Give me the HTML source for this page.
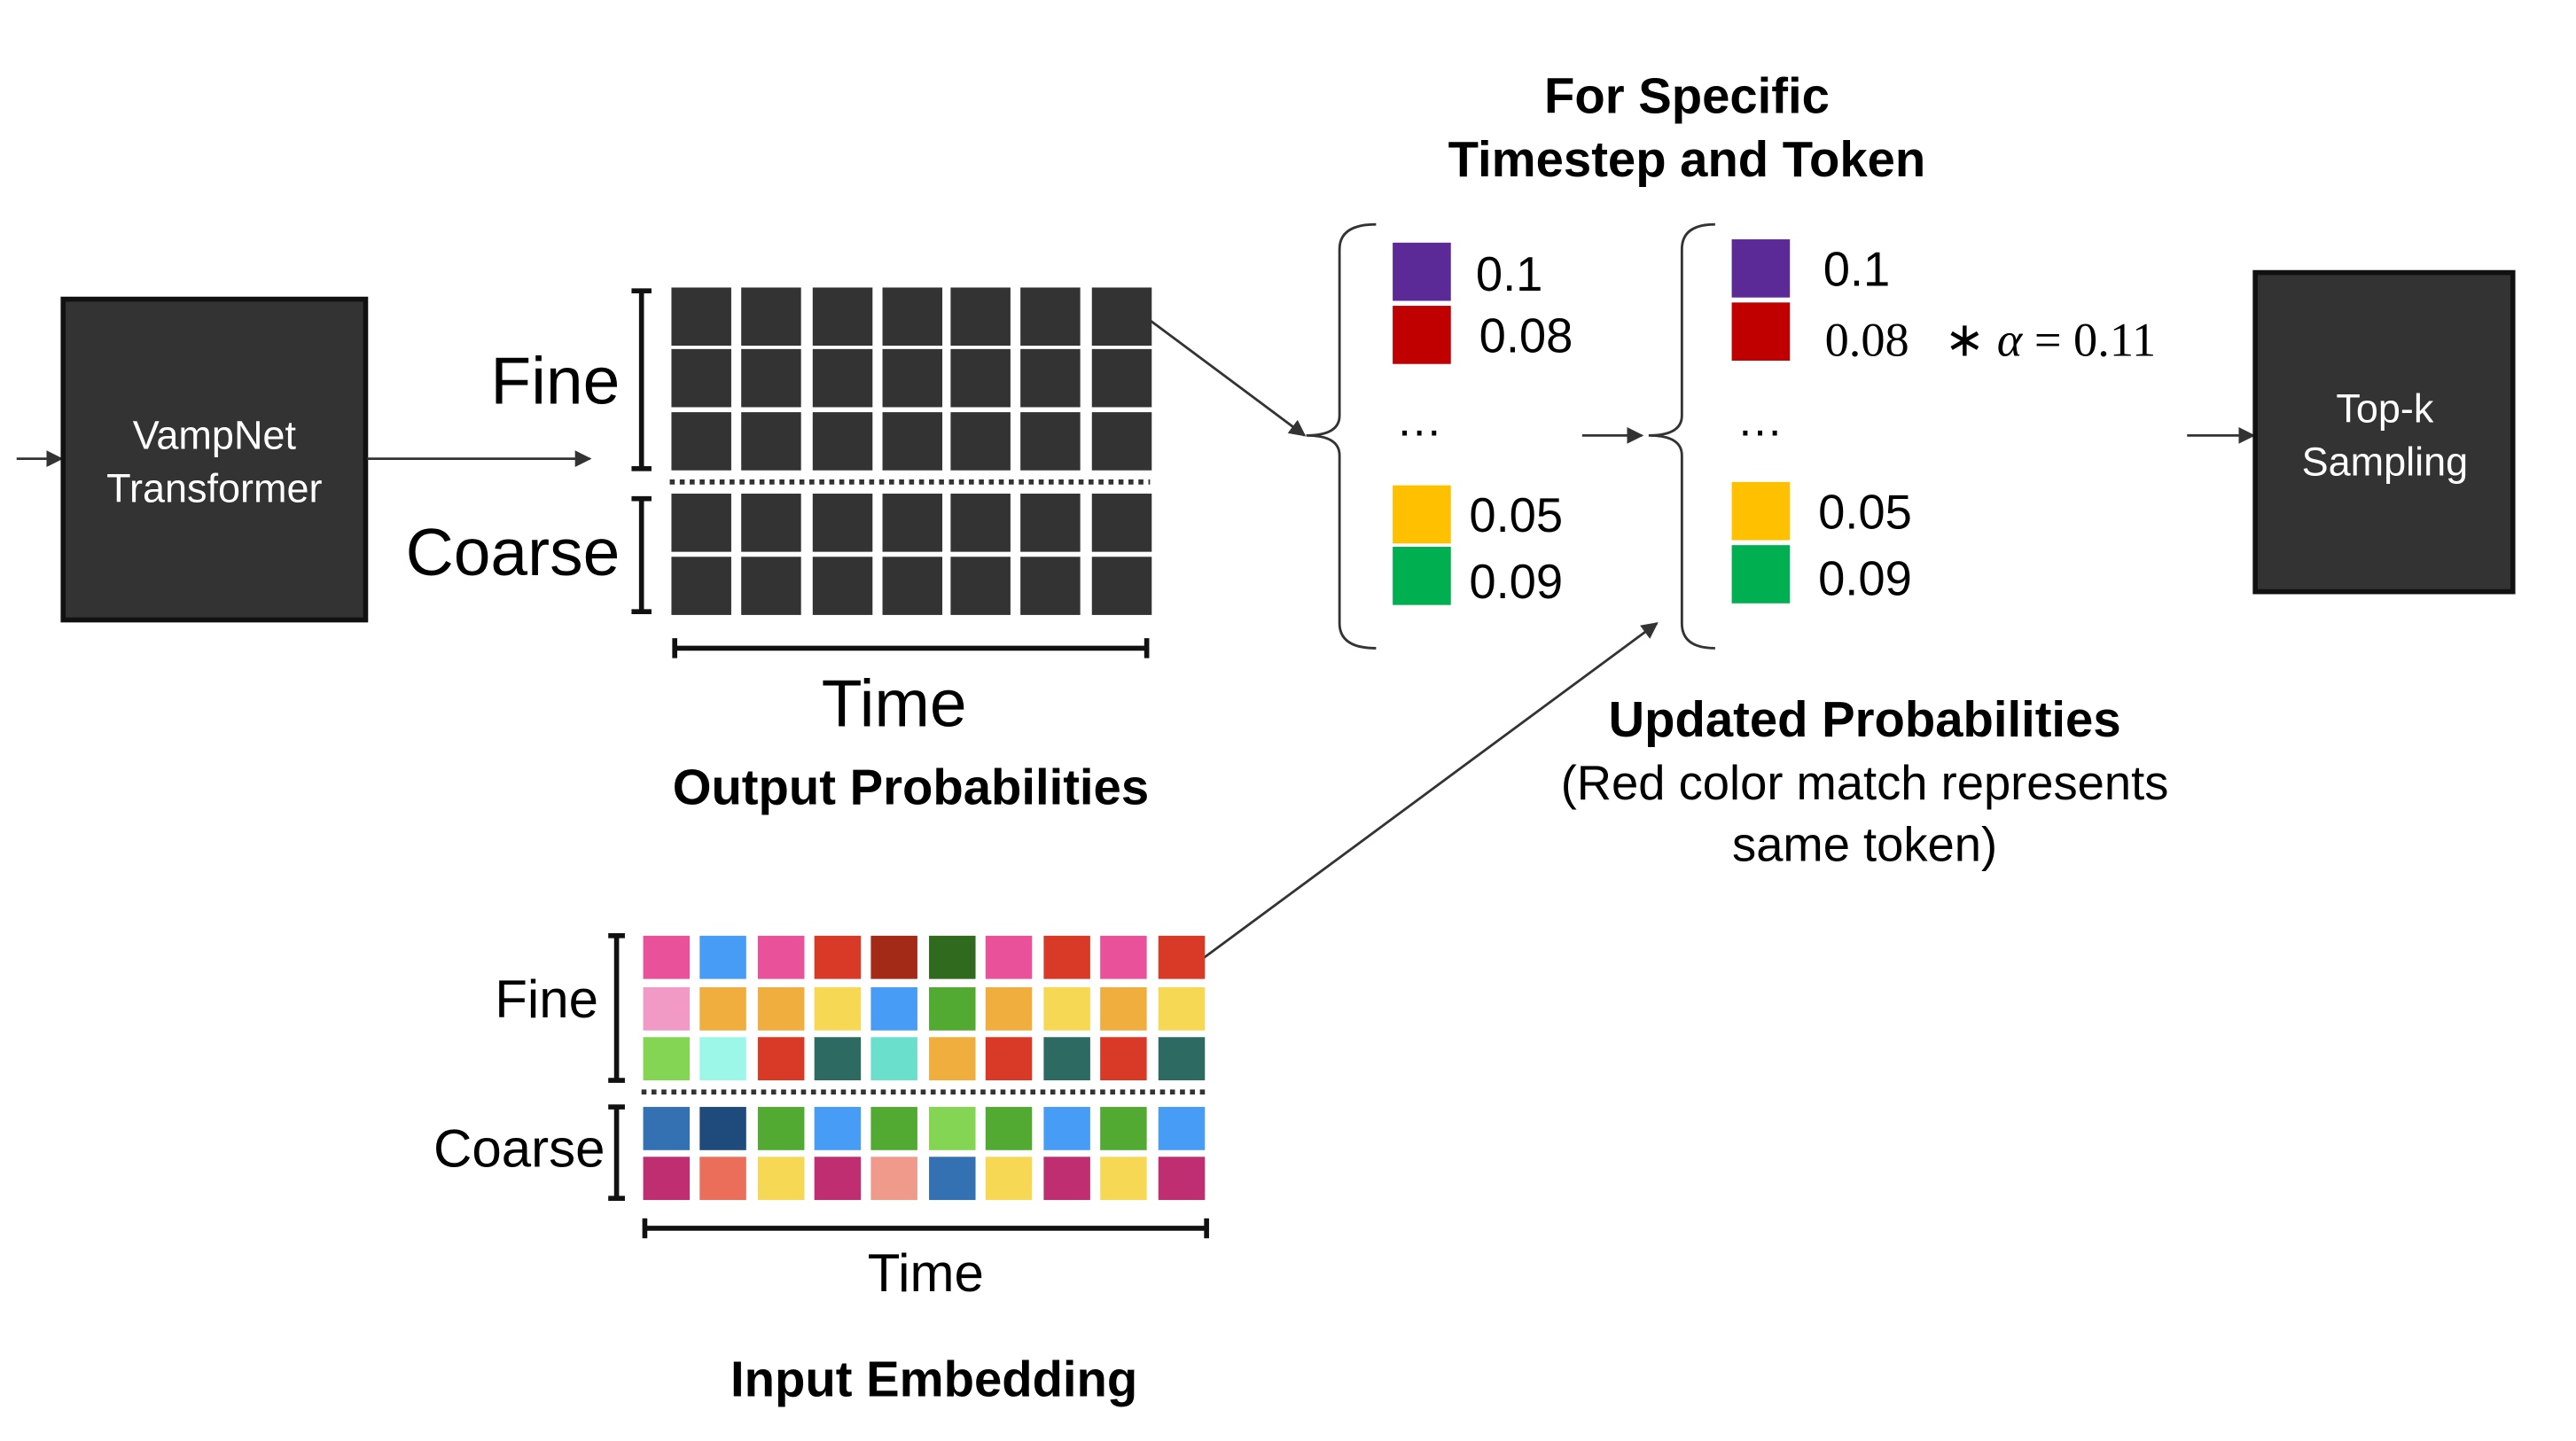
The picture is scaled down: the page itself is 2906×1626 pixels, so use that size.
<!DOCTYPE html>
<html><head><meta charset="utf-8"><style>
html,body{margin:0;padding:0;background:#fff;}
svg{display:block;}
text{font-family:"Liberation Sans",sans-serif;}
</style></head><body>
<svg id="s" width="2906" height="1626" viewBox="0 0 1550 867" preserveAspectRatio="none" xmlns="http://www.w3.org/2000/svg">
<defs><marker id="ah" markerWidth="10" markerHeight="10" refX="9" refY="5" orient="auto" markerUnits="userSpaceOnUse"><path d="M0,0 L10,5 L0,10 Z" fill="#333"/></marker></defs>
<line x1="10" y1="276" x2="37" y2="276" stroke="#333" stroke-width="1.5" marker-end="url(#ah)"/>
<g>
<rect x="38" y="180" width="182" height="193" fill="#333" stroke="#111" stroke-width="3"/>
<text x="129" y="270" fill="#fff" font-size="24" text-anchor="middle">VampNet</text>
<text x="129" y="302" fill="#fff" font-size="24" text-anchor="middle">Transformer</text>
</g>
<line x1="221" y1="276" x2="355" y2="276" stroke="#333" stroke-width="1.5" marker-end="url(#ah)"/>
<g id="out"></g>
<line x1="403" y1="290" x2="692" y2="290" stroke="#333" stroke-width="3" stroke-dasharray="3,3"/>
<g stroke="#111" stroke-width="3" fill="none">
<path d="M380,175 H392 M386,175 V282 M380,282 H392"/>
<path d="M380,300 H392 M386,300 V368 M380,368 H392"/>
<path d="M406,384 V396 M406,390 H690 M690,384 V396"/>
</g>
<text x="373" y="243" font-size="40" text-anchor="end">Fine</text>
<text x="373" y="346" font-size="40" text-anchor="end">Coarse</text>
<text x="538" y="437" font-size="40" text-anchor="middle">Time</text>
<text x="548" y="484" font-size="30" font-weight="bold" text-anchor="middle">Output Probabilities</text>
<line x1="691" y1="192" x2="785" y2="262" stroke="#333" stroke-width="1.5" marker-end="url(#ah)"/>
<text x="1015" y="68" font-size="30" font-weight="bold" text-anchor="middle">For Specific</text>
<text x="1015" y="106" font-size="30" font-weight="bold" text-anchor="middle">Timestep and Token</text>
<g stroke="#333" stroke-width="1.5" fill="none">
<path d="M828,135 Q806,135 806,150 V250 Q806,262 786,262 Q806,262 806,274 V375 Q806,390 828,390"/>
<path d="M1032,135 Q1012,135 1012,150 V250 Q1012,262 992,262 Q1012,262 1012,274 V375 Q1012,390 1032,390"/>
</g>
<g id="probs"></g>
<text x="840" y="262" font-size="28">…</text>
<text x="1045" y="262" font-size="28">…</text>
<text x="1170" y="214" font-size="29" style="font-family:'Liberation Serif',serif">∗ <tspan font-style="italic">α</tspan> = 0.11</text>
<line x1="952" y1="262" x2="988" y2="262" stroke="#333" stroke-width="1.5" marker-end="url(#ah)"/>
<line x1="1316" y1="262" x2="1356" y2="262" stroke="#333" stroke-width="1.5" marker-end="url(#ah)"/>
<g>
<rect x="1357" y="164" width="155" height="192" fill="#333" stroke="#111" stroke-width="3"/>
<text x="1435" y="254" fill="#fff" font-size="24" text-anchor="middle">Top-k</text>
<text x="1435" y="286" fill="#fff" font-size="24" text-anchor="middle">Sampling</text>
</g>
<text x="1122" y="443" font-size="30" font-weight="bold" text-anchor="middle">Updated Probabilities</text>
<text x="1122" y="481" font-size="29" text-anchor="middle">(Red color match represents</text>
<text x="1122" y="518" font-size="29" text-anchor="middle">same token)</text>
<line x1="722" y1="578" x2="997" y2="375" stroke="#333" stroke-width="1.5" marker-end="url(#ah)"/>
<g id="inp"></g>
<line x1="386" y1="657" x2="727" y2="657" stroke="#333" stroke-width="3" stroke-dasharray="3,3"/>
<g stroke="#111" stroke-width="3" fill="none">
<path d="M366,563 H376 M371,563 V650 M366,650 H376"/>
<path d="M366,666 H376 M371,666 V721 M366,721 H376"/>
<path d="M388,733 V745 M388,739 H726 M726,733 V745"/>
</g>
<text x="360" y="612" font-size="32" text-anchor="end">Fine</text>
<text x="364" y="702" font-size="32" text-anchor="end">Coarse</text>
<text x="557" y="777" font-size="32" text-anchor="middle">Time</text>
<text x="562" y="840" font-size="30" font-weight="bold" text-anchor="middle">Input Embedding</text>
</svg>
<script>
const outRows=[173,210,248,297,335];
const outCols=[404,446,489,531,572,614,657];
const inRows=[563,594,624,666,696];
const inCols=[387,421,456,490,524,559,593,628,662,697];
const inColors=[
["#e9529a","#479df5","#e9529a","#d83a27","#a32a17","#2f6a1e","#e9529a","#d83a27","#e9529a","#d83a27"],
["#f19ac6","#efae3e","#efae3e","#f7d854","#479df5","#53aa33","#efae3e","#f7d854","#efae3e","#f7d854"],
["#83d553","#9df7e8","#d83a27","#2d6a62","#6ae0cc","#efae3e","#d83a27","#2d6a62","#d83a27","#2d6a62"],
["#3371b3","#1e4a7c","#53aa33","#479df5","#53aa33","#83d553","#53aa33","#479df5","#53aa33","#479df5"],
["#c02e72","#ea6e59","#f7d854","#c02e72","#f09a8c","#3371b3","#f7d854","#c02e72","#f7d854","#c02e72"]];
const probLabels1=["0.1","0.08","0.05","0.09"];
const probLabels2=["0.1","0.08","0.05","0.09"];
const probColors=["#5b2a96","#c00000","#ffc000","#00b050"];
const NS="http://www.w3.org/2000/svg";
function mk(tag,attrs,parent){const e=document.createElementNS(NS,tag);for(const k in attrs)e.setAttribute(k,attrs[k]);parent.appendChild(e);return e;}
const out=document.getElementById('out');
outRows.forEach((y,r)=>outCols.forEach((x,c)=>{const e=mk('rect',{x:x,y:y,width:36,height:35,fill:'#333'},out);

}));
const inp=document.getElementById('inp');
inRows.forEach((y,r)=>inCols.forEach((x,c)=>{const e=mk('rect',{x:x,y:y,width:28,height:26,fill:inColors[r][c]},inp);

}));
const probs=document.getElementById('probs');
const sq1=[146,184,292,329], tx1=[[888,175],[890,212],[884,320],[884,360]];
const sq2=[144,182,290,328], tx2=[[1097,172],[1098,214],[1094,318],[1094,358]];
probColors.forEach((col,i)=>{
const a=mk('rect',{x:838,y:sq1[i],width:35,height:35,fill:col},probs);


const t=mk('text',{x:tx1[i][0],y:tx1[i][1],'font-size':29},probs);t.textContent=probLabels1[i];


const b=mk('rect',{x:1042,y:sq2[i],width:35,height:35,fill:col},probs);


const u=mk('text',{x:tx2[i][0],y:tx2[i][1],'font-size':29},probs);u.textContent=probLabels2[i];
if(i===1){u.setAttribute('style',"font-family:'Liberation Serif',serif");}


});
</script>
</body></html>
